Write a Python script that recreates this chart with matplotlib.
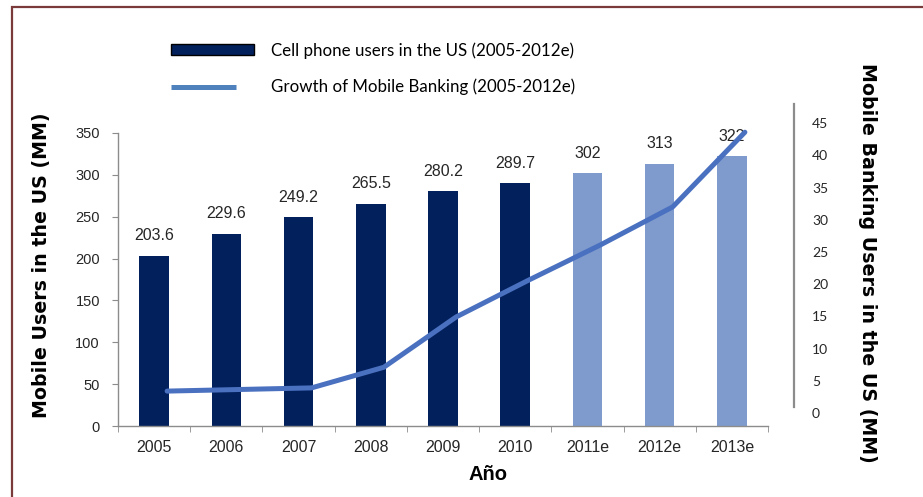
import matplotlib
matplotlib.use("Agg")
import matplotlib.pyplot as plt
import numpy as np
from matplotlib.patches import Patch, Rectangle
from matplotlib.lines import Line2D
from matplotlib.legend_handler import HandlerLine2D

categories = ["2005", "2006", "2007", "2008", "2009", "2010", "2011e", "2012e", "2013e"]
cell_users = [203.6, 229.6, 249.2, 265.5, 280.2, 289.7, 302, 313, 322]
estimated = [False, False, False, False, False, False, True, True, True]
mobile_banking = [3.4, 3.65, 3.9, 7.1, 14.9, 20.6, 26.1, 32.0, 43.6]
left_ticks = [0, 50, 100, 150, 200, 250, 300, 350]
right_ticks = [0, 5, 10, 15, 20, 25, 30, 35, 40, 45]

W, H = 923, 497
fig = plt.figure(figsize=(W / 100, H / 100), dpi=100)
fig.patch.set_facecolor("white")

def px(x0, y0, x1, y1):
    return [x0 / W, 1 - y1 / H, (x1 - x0) / W, (y1 - y0) / H]

DARK = "#02205C"
LIGHT = "#7F9BCD"
LINE = "#4A70C0"
LEG_LINE = "#4F81BD"
GRAY = "#8C8C8C"
TXT = "#262626"

# outer border (only left/top visible)
fig.patches.append(Rectangle((12 / W, -0.1), 1.2, (1 - 7 / H) + 0.1, transform=fig.transFigure,
                             fill=False, edgecolor="#7A3A3A", linewidth=1.6))

ax = fig.add_axes(px(118, 133, 768, 426))
x = np.arange(len(categories))
colors = [LIGHT if e else DARK for e in estimated]
bars = ax.bar(x, cell_users, width=0.41, color=colors, edgecolor="none", zorder=2)
ax.set_xlim(-0.5, len(categories) - 0.5)
ax.set_ylim(0, 350)
ax.set_yticks(left_ticks)
ax.set_xticks(x)
ax.set_xticklabels(categories)
ax.set_xticks(np.arange(len(categories) + 1) - 0.5, minor=True)
ax.tick_params(axis="x", which="major", length=0, pad=10, labelsize=11.5, labelcolor=TXT)
ax.tick_params(axis="x", which="minor", length=4, color=GRAY, direction="out")
ax.tick_params(axis="y", length=4, color=GRAY, pad=9, labelsize=10.5, labelcolor=TXT)
for lab in ax.get_xticklabels() + ax.get_yticklabels():
    lab.set_fontfamily("Liberation Sans")
for s in ["top", "right"]:
    ax.spines[s].set_visible(False)
for s in ["left", "bottom"]:
    ax.spines[s].set_color(GRAY)
    ax.spines[s].set_linewidth(1.0)
ax.patch.set_alpha(0)

for xi, v in zip(x, cell_users):
    ax.annotate(f"{v:g}", (xi, v), xytext=(0, 9), textcoords="offset points",
                ha="center", va="bottom", fontsize=11.5, color=TXT, family="Liberation Sans")

# right axis with banking line
ax2 = fig.add_axes(px(118, 104, 768, 413))
ax2.patch.set_alpha(0)
ax2.set_xlim(-0.5, len(categories) - 0.5)
top_val = (413 - 104) / 6.44
ax2.set_ylim(0, top_val)
ax2.plot(x + 0.18, mobile_banking, color=LINE, linewidth=3.6, solid_capstyle="round",
         solid_joinstyle="round", clip_on=False, zorder=3)
for s in ["top", "left", "bottom"]:
    ax2.spines[s].set_visible(False)
ax2.spines["right"].set_position(("outward", 26 * 0.72))
ax2.spines["right"].set_bounds((413 - 407) / 6.44, top_val)
ax2.spines["right"].set_color(GRAY)
ax2.spines["right"].set_linewidth(1.6)
ax2.set_xticks([])
ax2.yaxis.tick_right()
ax2.set_yticks(right_ticks)
ax2.tick_params(axis="y", length=0, pad=13, labelsize=10, labelcolor=TXT)
for lab in ax2.get_yticklabels():
    lab.set_fontfamily("Lato")
    lab.set_horizontalalignment("left")

# axis titles
fig.text(42 / W, 1 - 265 / H, "Mobile Users in the US (MM)", rotation=90, ha="center", va="center",
         fontsize=13.7, fontweight="bold", family="DejaVu Sans", color="black")
fig.text(868 / W, 1 - 263 / H, "Mobile Banking Users in the US (MM)", rotation=-90, ha="center", va="center",
         fontsize=13.7, fontweight="bold", family="DejaVu Sans", color="black")
fig.text(488 / W, 1 - 475 / H, "Año", ha="center", va="center", fontsize=14.5, fontweight="bold",
         family="Liberation Sans", color="black")


class ShortLineHandler(HandlerLine2D):
    def get_xdata(self, legend, xdescent, ydescent, width, height, fontsize):
        xd = np.array([-xdescent, -xdescent + width * 0.78])
        return xd, xd


handles = [Patch(facecolor=DARK, edgecolor="black", linewidth=1.0),
           Line2D([], [], color=LEG_LINE, linewidth=3.6, solid_capstyle="butt")]
labels = ["Cell phone users in the US (2005-2012e)", "Growth of Mobile Banking (2005-2012e)"]
fig.legend(handles, labels, loc="upper left", bbox_to_anchor=(171 / W, 1 - 42 / H),
           bbox_transform=fig.transFigure, frameon=False, borderpad=0, borderaxespad=0,
           handlelength=4.9, handleheight=0.66, handletextpad=1.0, labelspacing=1.2,
           handler_map={Line2D: ShortLineHandler()},
           prop={"family": "Lato", "size": 12.2})

fig.savefig("out.png", dpi=100, facecolor="white")
